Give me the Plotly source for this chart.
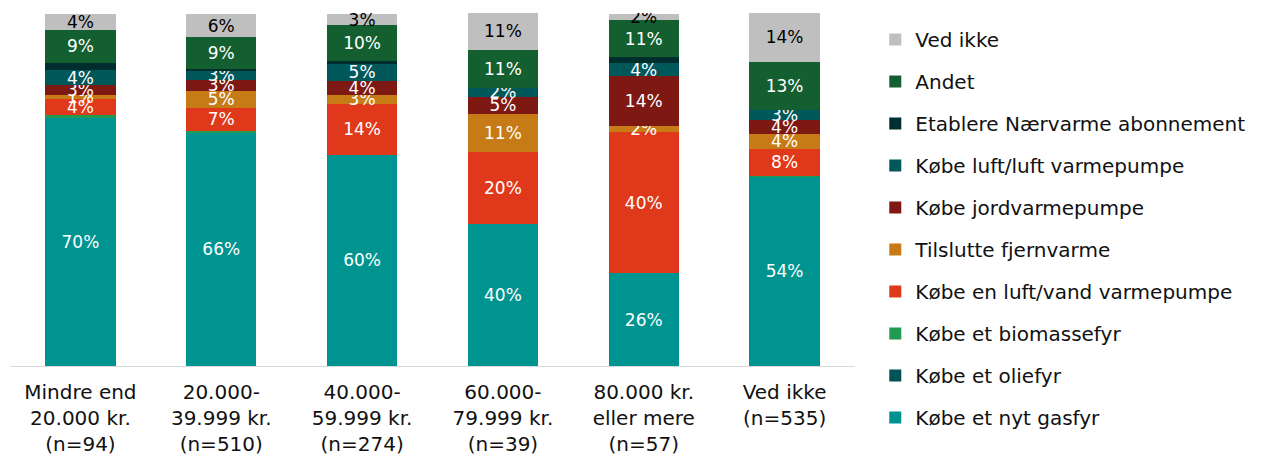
import plotly.graph_objects as go

categories = [
    "Mindre end<br>20.000 kr.<br>(n=94)",
    "20.000-<br>39.999 kr.<br>(n=510)",
    "40.000-<br>59.999 kr.<br>(n=274)",
    "60.000-<br>79.999 kr.<br>(n=39)",
    "80.000 kr.<br>eller mere<br>(n=57)",
    "Ved ikke<br>(n=535)",
]

# shares in percent, bottom of the stack first
gasfyr = [70.3, 66.1, 59.8, 40.2, 26.3, 53.6]
oliefyr = [0, 0, 0, 0, 0, 0]
biomassefyr = [0.9, 0.5, 0, 0, 0, 0.3]
luft_vand = [4.4, 6.6, 14.4, 20.4, 40.0, 7.6]
fjernvarme = [1.2, 4.7, 2.6, 10.8, 1.6, 4.2]
jordvarme = [2.8, 3.2, 4.0, 4.9, 14.2, 4.1]
luft_luft = [4.2, 2.7, 5.0, 2.4, 3.6, 2.8]
naervarme = [2.1, 0.3, 0.5, 0, 1.7, 0]
andet = [9.4, 9.1, 10.3, 10.7, 10.6, 13.4]
ved_ikke = [4.4, 6.4, 3.1, 10.8, 1.8, 14.3]

# (name, values, colour, show label, label colour)
series = [
    ("Købe et nyt gasfyr", gasfyr, "#009490", True, "white"),
    ("Købe et oliefyr", oliefyr, "#005357", False, "white"),
    ("Købe et biomassefyr", biomassefyr, "#229A52", False, "white"),
    ("Købe en luft/vand varmepumpe", luft_vand, "#E0381A", True, "white"),
    ("Tilslutte fjernvarme", fjernvarme, "#C67B16", True, "white"),
    ("Købe jordvarmepumpe", jordvarme, "#7D1812", True, "white"),
    ("Købe luft/luft varmepumpe", luft_luft, "#01585B", True, "white"),
    ("Etablere Nærvarme abonnement", naervarme, "#002E2E", False, "white"),
    ("Andet", andet, "#135F2F", True, "white"),
    ("Ved ikke", ved_ikke, "#BFBFBF", True, "black"),
]

FONT = "DejaVu Sans"

fig = go.Figure()
for i, (name, vals, color, show, tcolor) in enumerate(series):
    fig.add_trace(go.Bar(
        x=categories,
        y=vals,
        name=name,
        legendgroup=f"g{i}",
        legendrank=len(series) - i,
        marker=dict(color=color, line=dict(width=0)),
        texttemplate="%{y:.0f}%" if show else None,
        textposition="inside" if show else "none",
        insidetextanchor="middle",
        textangle=0,
        constraintext="none",
        insidetextfont=dict(color=tcolor, size=17, family=FONT),
    ))

# the page body adds an 8px margin, so the figure is 8px smaller than the window
fig.update_layout(
    barmode="stack",
    bargap=0.5,
    width=1255,
    height=456,
    margin=dict(l=2, r=408, t=5, b=98, autoexpand=False),
    plot_bgcolor="white",
    paper_bgcolor="white",
    font=dict(family=FONT, size=20, color="#111111"),
    uniformtext=dict(mode="show", minsize=17),
    legend=dict(
        traceorder="grouped",
        tracegroupgap=13,
        x=1.024, xanchor="left",
        y=0.98, yanchor="top",
        font=dict(size=20, family=FONT),
        itemwidth=30,
        maxheight=456,
    ),
)
fig.update_xaxes(
    showline=True, linecolor="#D9D9D9", linewidth=1,
    ticks="", tickfont=dict(size=20, family=FONT),
    ticklabelstandoff=8, automargin=False,
)
fig.update_yaxes(range=[0, 100], visible=False, automargin=False)

fig.write_html("out.html")
